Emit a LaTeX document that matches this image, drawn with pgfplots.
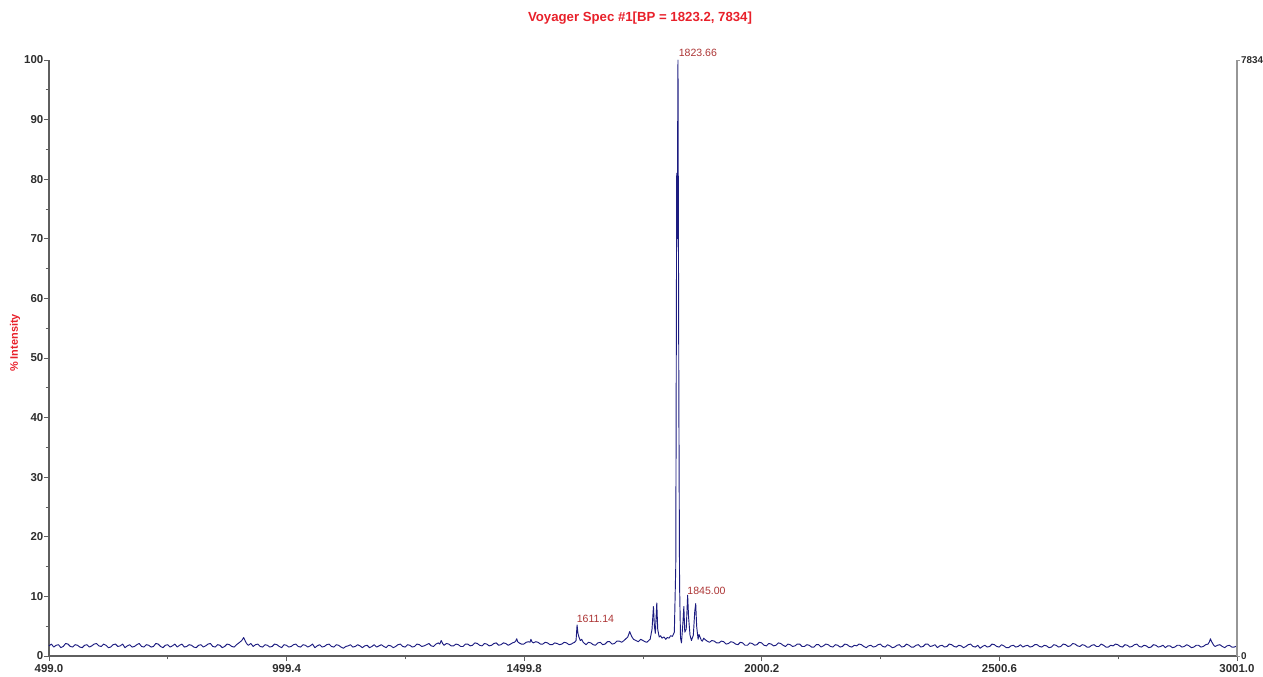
\documentclass[border=0pt]{standalone}
\usepackage{fontspec}
\setmainfont{Liberation Sans}
\usepackage{pgfplots}
\pgfplotsset{compat=1.18}
\definecolor{spec}{RGB}{28,28,128}
\definecolor{ttl}{RGB}{232,32,42}
\definecolor{pk}{RGB}{172,52,52}
\definecolor{axg}{RGB}{95,95,95}
\definecolor{axr}{RGB}{150,150,150}
\definecolor{tl}{RGB}{45,45,45}
\begin{document}
\begin{tikzpicture}
\useasboundingbox (0,0) rectangle (947.25pt,507pt);
\begin{axis}[
  at={(36.75pt,15pt)}, anchor=south west,
  width=891pt, height=447pt, scale only axis,
  xmin=499, xmax=3001, ymin=0, ymax=100,
  axis x line*=bottom, axis y line*=left,
  axis line style={-, axg, line width=0.8pt},
  xtick={499,999.4,1499.8,2000.2,2500.6,3001},
  xticklabels={499.0,999.4,1499.8,2000.2,2500.6,3001.0},
  minor x tick num=1,
  ytick={0,10,...,100},
  minor y tick num=1,
  tick align=outside,
  major tick length=3.75pt, minor tick length=2.6pt,
  tick style={axg, line width=0.6pt},
  /pgf/number format/assume math mode=true,
  tick label style={font=\fontsize{8.6}{9}\selectfont\bfseries, text=tl},
  xticklabel style={yshift=1pt},
  yticklabel style={xshift=3pt},
  clip=false,
]
\addplot[spec, line width=0.7pt, line join=round] coordinates {
(499,1.7)(504,2.0)(509,1.5)(514,1.8)(519,1.9)(524,1.4)(529,1.6)(534,2.1)(539,2.0)(544,1.6)
(549,1.5)(554,1.9)(559,1.8)(564,1.5)(569,1.4)(574,1.8)(579,1.9)(584,1.5)(589,1.7)(594,2.0)
(599,2.1)(604,1.7)(609,1.6)(614,2.0)(619,1.8)(624,1.4)(629,1.5)(634,1.9)(639,2.0)(644,1.6)
(649,1.7)(654,2.0)(659,1.4)(664,1.7)(669,1.9)(674,1.5)(679,1.6)(684,1.9)(689,2.1)(694,1.6)
(699,1.5)(704,1.9)(709,1.8)(714,1.5)(719,1.6)(724,2.1)(729,2.0)(734,1.6)(739,1.4)(744,1.8)
(749,1.9)(754,1.5)(759,1.7)(764,2.0)(769,1.5)(774,1.8)(779,2.0)(784,1.5)(789,1.6)(794,1.9)
(799,1.8)(804,1.5)(809,1.4)(814,1.8)(819,1.9)(824,1.5)(829,1.7)(834,2.0)(839,2.1)(844,1.6)
(849,1.5)(854,1.9)(859,1.8)(864,1.4)(869,1.6)(874,2.0)(879,1.9)(884,1.6)(889,1.5)(894,1.9)
(899,2.2)(905,2.6)(909,3.1)(913,2.4)(916,2.0)(919,1.8)(924,2.1)(929,1.6)(934,1.9)(939,2.0)
(944,1.6)(949,1.5)(954,1.9)(959,1.8)(964,1.5)(969,1.6)(974,2.0)(979,1.9)(984,1.6)(989,1.4)
(994,1.9)(999,1.8)(1004,1.5)(1009,1.6)(1014,1.9)(1019,2.0)(1024,1.6)(1029,1.5)(1034,1.9)(1039,1.8)
(1044,1.5)(1049,1.7)(1054,2.0)(1059,1.4)(1064,1.7)(1069,1.9)(1074,1.5)(1079,1.6)(1084,1.9)(1089,2.0)
(1094,1.6)(1099,1.5)(1104,1.9)(1109,1.8)(1114,1.5)(1119,1.3)(1124,1.6)(1129,1.7)(1134,1.9)(1139,1.5)
(1144,1.6)(1149,1.9)(1154,1.7)(1159,1.4)(1164,1.7)(1169,1.8)(1174,1.4)(1179,1.6)(1184,1.9)(1189,1.5)
(1194,1.7)(1199,1.9)(1204,1.6)(1209,1.4)(1214,1.8)(1219,1.7)(1224,1.4)(1229,1.6)(1234,1.9)(1239,2.0)
(1244,1.6)(1249,1.5)(1254,1.9)(1259,1.8)(1264,1.5)(1269,1.6)(1274,2.0)(1279,1.9)(1284,1.6)(1289,1.7)
(1294,1.9)(1299,2.1)(1304,1.7)(1309,1.6)(1314,2.0)(1319,2.2)(1322,2.0)(1325,2.6)(1328,2.1)(1331,1.8)
(1336,2.1)(1341,2.0)(1346,1.7)(1351,1.7)(1356,2.0)(1361,1.9)(1366,1.6)(1371,1.6)(1376,2.0)(1381,2.0)
(1386,1.7)(1391,1.8)(1396,2.2)(1401,2.1)(1406,1.8)(1411,1.7)(1416,2.1)(1421,2.0)(1426,1.7)(1431,1.8)
(1436,2.1)(1441,2.2)(1446,1.8)(1451,1.9)(1456,2.2)(1461,2.1)(1466,1.8)(1471,2.0)(1475,2.2)(1479,2.3)
(1482,2.5)(1484,2.9)(1486,2.4)(1489,2.2)(1494,2.0)(1499,2.0)(1504,2.3)(1509,2.4)(1512,2.3)(1514,2.8)
(1516,2.4)(1519,2.2)(1524,2.4)(1529,2.3)(1534,2.0)(1539,2.0)(1544,2.3)(1549,2.2)(1554,1.9)(1559,1.9)
(1564,2.2)(1569,2.1)(1574,1.9)(1579,2.0)(1584,2.3)(1589,2.2)(1594,1.9)(1599,2.0)(1603,2.2)(1606,2.3)
(1609,2.6)(1611.14,5.2)(1613,3.8)(1615,3.2)(1618,2.6)(1621,2.8)(1624,2.3)(1627,2.1)(1630,1.9)(1635,2.3)
(1640,2.2)(1645,1.9)(1650,1.8)(1655,2.2)(1660,2.3)(1665,1.9)(1670,2.0)(1675,2.4)(1680,2.4)(1685,2.0)
(1690,2.1)(1695,2.5)(1700,2.5)(1705,2.3)(1710,2.6)(1714,2.9)(1718,3.2)(1722,4.1)(1726,3.3)(1730,2.8)
(1735,2.6)(1740,2.4)(1745,2.8)(1750,2.6)(1754,2.4)(1758,2.3)(1762,2.6)(1765,2.8)(1769,4.5)(1772,8.3)
(1774,5.0)(1776,3.8)(1779,8.9)(1781,4.5)(1784,3.2)(1787,3.4)(1790,3.0)(1794,3.2)(1798,2.8)(1801,3.1)
(1805,3.0)(1808,3.4)(1812,3.3)(1816,4.0)(1819,15)(1821,81)(1822,70)(1823.66,100)(1825.5,43)(1827,12)
(1829,3.0)(1831,2.2)(1834,5.5)(1836,8.3)(1838,4.0)(1841,4.5)(1844,10.2)(1846,6.5)(1849,3.5)(1852,2.6)
(1856,3.5)(1859,7.5)(1861,8.8)(1863,5.0)(1866,2.8)(1868,3.6)(1870,3.2)(1873,2.6)(1875,2.5)(1878,3.0)
(1880,2.8)(1885,2.5)(1890,2.3)(1895,2.6)(1900,2.5)(1905,2.2)(1910,2.2)(1915,2.5)(1920,2.4)(1925,2.0)
(1930,2.1)(1935,2.4)(1940,2.3)(1945,2.0)(1950,1.9)(1955,2.3)(1960,2.2)(1965,1.8)(1970,1.8)(1975,2.2)
(1980,2.1)(1985,1.8)(1990,1.9)(1995,2.3)(2000,2.2)(2005,1.8)(2010,1.7)(2015,2.1)(2020,2.0)(2025,1.7)
(2030,1.8)(2035,2.2)(2040,2.1)(2045,1.8)(2050,1.6)(2055,2.0)(2060,1.9)(2065,1.6)(2070,1.7)(2075,2.0)
(2080,2.0)(2085,1.6)(2090,1.6)(2095,1.9)(2100,1.8)(2105,1.5)(2110,1.5)(2115,1.9)(2120,1.9)(2125,1.5)
(2130,1.7)(2135,2.0)(2140,1.9)(2145,1.6)(2150,1.5)(2155,1.9)(2160,1.8)(2165,1.5)(2170,1.6)(2175,2.0)
(2180,1.9)(2185,1.6)(2190,1.5)(2195,1.8)(2200,1.7)(2205,2.0)(2210,1.9)(2215,1.6)(2220,1.4)(2225,1.7)
(2230,1.8)(2235,1.5)(2240,1.6)(2245,1.9)(2250,2.0)(2255,1.6)(2260,1.5)(2265,1.9)(2270,1.7)(2275,1.4)
(2280,1.5)(2285,1.8)(2290,1.9)(2295,1.5)(2300,1.6)(2305,2.0)(2310,1.8)(2315,1.5)(2320,1.5)(2325,1.8)
(2330,1.9)(2335,1.5)(2340,1.6)(2345,2.0)(2350,2.0)(2355,1.6)(2360,1.7)(2365,1.9)(2370,1.4)(2375,1.7)
(2380,1.8)(2385,1.5)(2390,1.6)(2395,2.0)(2400,1.9)(2405,1.6)(2410,1.5)(2415,1.8)(2420,1.7)(2425,1.4)
(2430,1.6)(2435,1.9)(2440,2.0)(2445,1.6)(2450,1.5)(2455,1.8)(2460,1.3)(2465,1.6)(2470,1.8)(2475,1.5)
(2480,1.6)(2485,2.0)(2490,1.9)(2495,1.6)(2500,1.5)(2505,1.9)(2510,1.7)(2515,1.4)(2520,1.4)(2525,1.7)
(2530,1.8)(2535,1.5)(2540,1.6)(2545,1.9)(2550,1.5)(2555,1.7)(2560,1.8)(2565,1.5)(2570,1.6)(2575,1.9)
(2580,1.9)(2585,1.6)(2590,1.5)(2595,1.8)(2600,1.7)(2605,1.4)(2610,1.5)(2615,1.9)(2620,1.8)(2625,1.5)
(2630,1.6)(2635,2.0)(2640,1.9)(2645,1.6)(2650,1.7)(2655,2.1)(2660,2.0)(2665,1.7)(2670,1.6)(2675,1.9)
(2680,1.8)(2685,1.5)(2690,1.5)(2695,1.8)(2700,1.9)(2705,1.6)(2710,1.6)(2715,2.0)(2720,1.8)(2725,1.5)
(2730,1.5)(2735,1.8)(2740,1.7)(2745,2.0)(2750,1.9)(2755,1.6)(2760,1.5)(2765,1.9)(2770,1.8)(2775,1.5)
(2780,1.6)(2785,1.9)(2790,2.0)(2795,1.6)(2800,1.5)(2805,1.8)(2810,1.7)(2815,1.4)(2820,1.5)(2825,1.9)
(2830,1.8)(2835,1.5)(2840,1.6)(2845,1.8)(2850,1.4)(2855,1.7)(2860,1.7)(2865,1.4)(2870,1.5)(2875,1.8)
(2880,1.8)(2885,1.5)(2890,1.6)(2895,1.9)(2900,1.7)(2905,1.4)(2910,1.5)(2915,1.8)(2920,1.8)(2925,1.5)
(2930,1.6)(2935,1.9)(2940,2.0)(2943,2.4)(2945,2.9)(2947,2.5)(2949,2.2)(2952,1.8)(2955,1.6)(2960,1.8)
(2965,1.9)(2970,1.6)(2975,1.4)(2980,1.7)(2985,1.8)(2990,1.5)(2995,1.5)(3001,1.7)
};
\node[pk, anchor=south west, font=\fontsize{7.9}{8}\selectfont, inner sep=0pt] at (axis cs:1825,100.5) {1823.66};
\node[pk, anchor=south west, font=\fontsize{7.9}{8}\selectfont, inner sep=0pt] at (axis cs:1843,10.3) {1845.00};
\node[pk, anchor=south west, font=\fontsize{7.9}{8}\selectfont, inner sep=0pt] at (axis cs:1610,5.5) {1611.14};
\end{axis}
\begin{axis}[
  at={(36.75pt,15pt)}, anchor=south west,
  width=891pt, height=447pt, scale only axis,
  xmin=499, xmax=3001, ymin=0, ymax=7834,
  axis x line=none, axis y line*=right,
  axis line style={-, axr, line width=0.9pt},
  ytick={0,7834}, yticklabels={0,7834},
  tick align=outside, major tick length=2pt,
  tick style={axr, line width=0.6pt},
  /pgf/number format/assume math mode=true,
  tick label style={font=\fontsize{7.4}{8}\selectfont\bfseries, text=tl},
  yticklabel style={xshift=-2.5pt},
]
\addplot[draw=none] coordinates {(499,0)(3001,0)};
\end{axis}
\node[ttl, font=\fontsize{9.9}{11}\selectfont\bfseries] at (480pt,493.5pt) {Voyager Spec \#1[BP = 1823.2, 7834]};
\node[ttl, rotate=90, font=\fontsize{8.2}{9}\selectfont\bfseries] at (11.25pt,249.75pt) {\% Intensity};
\end{tikzpicture}
\end{document}
